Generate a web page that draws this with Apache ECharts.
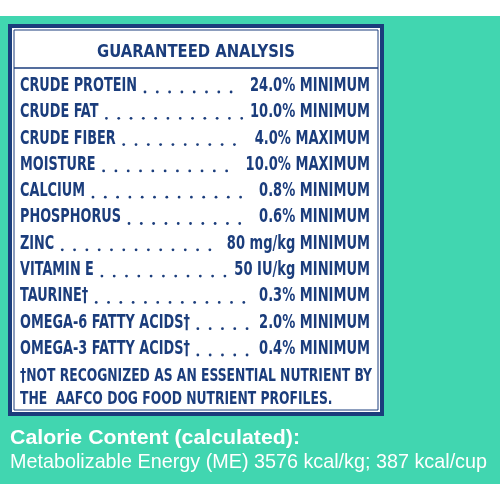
<!DOCTYPE html>
<html><head><meta charset="utf-8">
<script src="https://cdn.jsdelivr.net/npm/echarts@6/dist/echarts.min.js"></script>
<style>html,body{margin:0;padding:0;background:#fff}#c{width:500px;height:500px}</style>
</head><body><div id="c"></div>
<script>
const title = "GUARANTEED ANALYSIS";
const nutrients = ["CRUDE PROTEIN","CRUDE FAT","CRUDE FIBER","MOISTURE","CALCIUM","PHOSPHORUS","ZINC","VITAMIN E","TAURINE\u2020","OMEGA-6 FATTY ACIDS\u2020","OMEGA-3 FATTY ACIDS\u2020"];
const amounts = ["24.0% MINIMUM","10.0% MINIMUM","4.0% MAXIMUM","10.0% MAXIMUM","0.8% MINIMUM","0.6% MINIMUM","80 mg/kg MINIMUM","50 IU/kg MINIMUM","0.3% MINIMUM","2.0% MINIMUM","0.4% MINIMUM"];
const footnote = ["\u2020NOT RECOGNIZED AS AN ESSENTIAL NUTRIENT BY","THE  AAFCO DOG FOOD NUTRIENT PROFILES."];
const calorie = ["Calorie Content (calculated):","Metabolizable Energy (ME) 3576 kcal/kg; 387 kcal/cup"];

const navy = "#1b3d7c", teal = "#41d6b0";
const F = "'DejaVu Sans Condensed','DejaVu Sans',sans-serif";
const F2 = "'Liberation Sans',Arial,sans-serif";
const ctx = document.createElement('canvas').getContext('2d');
function w(t,font){ctx.font=font;return ctx.measureText(t).width;}
const g = [];
function txt(t,x,y,font,fill,target,align){
  const s = target / w(t,font);
  g.push({type:'text',x:x,y:y,scaleX:s,style:{text:t,fill:fill,font:font,align:align||'left',verticalAlign:'middle'}});
  return s;
}
g.push({type:'rect',shape:{x:0,y:16,width:500,height:468},style:{fill:teal}});
g.push({type:'rect',shape:{x:10,y:26,width:372,height:388},style:{fill:'#fff',stroke:navy,lineWidth:4}});
g.push({type:'rect',shape:{x:14,y:30,width:364,height:380},style:{fill:'none',stroke:navy,lineWidth:1}});
g.push({type:'line',shape:{x1:14,y1:68,x2:378,y2:68},style:{stroke:navy,lineWidth:1.5}});
const tf = "bold 18px "+F;
txt(title,196,52,tf,navy,198,'center');
const nf = "bold 19px "+F;
const ns = 117 / w(nutrients[0],nf);
const vs = 120 / w(amounts[0],nf);
nutrients.forEach((n,i)=>{
  const y = 86 + i*26.3;
  g.push({type:'text',x:20,y:y,scaleX:ns,style:{text:n,fill:navy,font:nf,verticalAlign:'middle'}});
  g.push({type:'text',x:370,y:y,scaleX:vs,style:{text:amounts[i],fill:navy,font:nf,align:'right',verticalAlign:'middle'}});
  const x0 = 20 + w(n,nf)*ns + 8, x1 = 370 - w(amounts[i],nf)*vs - 8;
  for(let x=x0; x<=x1; x+=12.3){
    g.push({type:'circle',shape:{cx:x,cy:y+6,r:1.4},style:{fill:navy}});
  }
});
const ff = "bold 17px "+F;
txt(footnote[0],20,377,ff,navy,352);
txt(footnote[1],20,400,ff,navy,w(footnote[1],ff)*352/w(footnote[0],ff));
const cf1 = "bold 21px "+F2, cf2 = "21px "+F2;
txt(calorie[0],10,438,cf1,'#fff',290);
txt(calorie[1],10,462,cf2,'#fff',477);
const chart = echarts.init(document.getElementById('c'));
chart.setOption({animation:false,graphic:{elements:g}});
</script></body></html>
